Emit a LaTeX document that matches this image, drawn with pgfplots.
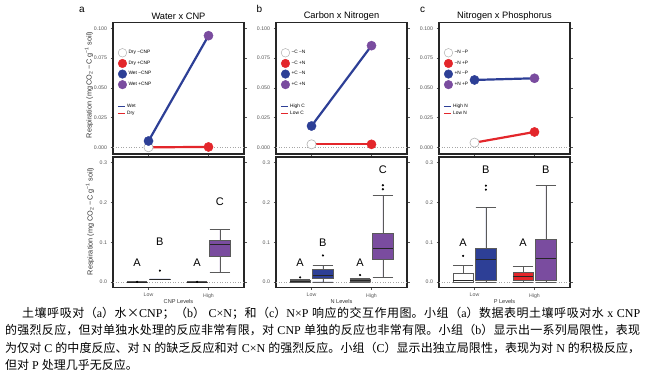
\documentclass[border=0pt]{standalone}
\usepackage{pgfplots}
\pgfplotsset{compat=1.18}
\usepgfplotslibrary{statistics}
\usepackage{fontspec}
\setmainfont{Liberation Sans}
\newfontfamily\cjk{Noto Sans CJK SC}
\newfontfamily\lat{Liberation Serif}
\definecolor{cred}{HTML}{E3262B}
\definecolor{cblue}{HTML}{2D3F96}
\definecolor{cpurple}{HTML}{7A4C9F}
\definecolor{fr}{HTML}{262626}
\definecolor{tk}{HTML}{555555}
\definecolor{bxc}{HTML}{5A5A5A}

\pgfplotsset{
  panel/.style={scale only axis, width=131pt,
    xmin=0.408, xmax=2.592,
    axis line style={fr, line width=1.5pt},
    tick style={tk, line width=0.4pt},
    tick align=outside, major tick length=2.5pt,
    ticklabel style={font=\fontsize{5.2}{6}\selectfont, text=tk},
    /pgf/number format/assume math mode=true,
    scaled y ticks=false, clip=false,
  },
  toppanel/.style={panel, height=131.3pt, ymin=-0.00563, ymax=0.1047,
    ytick={0,0.025,0.05,0.075,0.1}, xtick=\empty,
    yticklabel style={/pgf/number format/fixed, /pgf/number format/fixed zerofill, /pgf/number format/precision=3},
    legend image code/.code={\draw[##1] (0pt,0pt) -- (7pt,0pt);},
    legend style={draw=none, fill=none, inner sep=0pt, at={(axis description cs:0.031,0.381)}, anchor=north west,
      font=\fontsize{4.8}{5}\selectfont, row sep=2.2pt, column sep=1.6pt, nodes={inner sep=0pt}},
    legend cell align=left,
  },
  legaxis/.style={scale only axis, width=131pt, height=131.3pt, hide axis, xmin=0, xmax=1, ymin=0, ymax=1,
    legend image code/.code={\draw[##1] (0pt,0pt) circle (4.3pt);},
    legend style={draw=none, fill=none, inner sep=0pt, at={(axis description cs:0.036,0.807)}, anchor=north west,
      font=\fontsize{4.8}{5}\selectfont, row sep=1.6pt, column sep=1.5pt, nodes={inner sep=0pt}},
    legend cell align=left,
  },
  botpanel/.style={panel, height=130.3pt, ymin=-0.0128, ymax=0.3138,
    ytick={0,0.1,0.2,0.3}, xtick={1,2}, xticklabels={Low,High},
    yticklabel style={/pgf/number format/fixed, /pgf/number format/fixed zerofill, /pgf/number format/precision=1},
    boxplot/draw direction=y,
    boxplot/every median/.style={draw=black!85, line width=0.7pt},
  },
  zline/.style={forget plot, gray!70, dotted, line width=0.6pt},
  pt/.style={forget plot, only marks, mark=*, mark size=4.6pt, mark options={draw=#1, fill=#1}},
  conn/.style={forget plot, #1, line width=2.2pt},
}

% pos, lw, lq, med, uq, uw, fill, input
\newcommand{\bxp}[8]{%
  \addplot[boxplot prepared={draw position=#1, lower whisker=#2, lower quartile=#3, median=#4,
     upper quartile=#5, upper whisker=#6, box extend=0.34, whisker extend=0.34, draw direction=y},
     draw=bxc, fill=#7, line width=0.5pt, mark=*, mark size=0.8pt, mark options={draw=black, fill=black}] #8;
}

\begin{document}
\begin{tikzpicture}
\useasboundingbox (0,0) rectangle (650pt,-373pt);

% ---------- titles and panel letters
\node[font=\fontsize{10}{10}\selectfont] at (82pt,-10pt) {a};
\node[font=\fontsize{10}{10}\selectfont] at (259.5pt,-9pt) {b};
\node[font=\fontsize{10}{10}\selectfont] at (422.5pt,-10pt) {c};
\node[font=\fontsize{9.3}{10}\selectfont] at (178.5pt,-16pt) {Water x CNP};
\node[font=\fontsize{9.3}{10}\selectfont] at (341.5pt,-16pt) {Carbon x Nitrogen};
\node[font=\fontsize{9.3}{10}\selectfont] at (504.5pt,-16pt) {Nitrogen x Phosphorus};

\node[rotate=90, font=\fontsize{7.3}{8}\selectfont, text=black!80] at (89pt,-85pt) {Respiration (mg\,CO\textsubscript{2} −C g\textsuperscript{−1} soil)};
\node[rotate=90, font=\fontsize{7.3}{8}\selectfont, text=black!80] at (90pt,-221.5pt) {Respiration (mg CO\textsubscript{2} −C g\textsuperscript{−1} soil)};

\node[font=\fontsize{5.6}{6}\selectfont, text=black!80] at (178.5pt,-301pt) {CNP Levels};
\node[font=\fontsize{5.6}{6}\selectfont, text=black!80] at (341.5pt,-301pt) {N Levels};
\node[font=\fontsize{5.6}{6}\selectfont, text=black!80] at (504.5pt,-301pt) {P Levels};

% ---------- top a
\begin{axis}[toppanel, at={(113pt,-154pt)}, anchor=south west]
\addlegendimage{cblue, line width=1.3pt}\addlegendentry{Wet}
\addlegendimage{cred, line width=1.3pt}\addlegendentry{Dry}
\addplot[zline] coordinates {(0.408,0) (2.592,0)};
\addplot[conn=cred] coordinates {(1,0) (2,0.0003)};
\addplot[conn=cblue] coordinates {(1,0.0053) (2,0.0938)};
\addplot[forget plot, only marks, mark=*, mark size=4.6pt, mark options={draw=gray!60, fill=white, line width=0.6pt}] coordinates {(1,0)};
\addplot[pt=cred] coordinates {(2,0.0003)};
\addplot[pt=cblue] coordinates {(1,0.0053)};
\addplot[pt=cpurple] coordinates {(2,0.0938)};
\end{axis}
\begin{axis}[legaxis, at={(113pt,-154pt)}, anchor=south west]
\addlegendimage{draw=gray!60, fill=white, line width=0.5pt}\addlegendentry{Dry −CNP}
\addlegendimage{draw=cred, fill=cred}\addlegendentry{Dry +CNP}
\addlegendimage{draw=cblue, fill=cblue}\addlegendentry{Wet −CNP}
\addlegendimage{draw=cpurple, fill=cpurple}\addlegendentry{Wet +CNP}
\end{axis}

% ---------- top b
\begin{axis}[toppanel, at={(276pt,-154pt)}, anchor=south west]
\addlegendimage{cblue, line width=1.3pt}\addlegendentry{High C}
\addlegendimage{cred, line width=1.3pt}\addlegendentry{Low C}
\addplot[zline] coordinates {(0.408,0) (2.592,0)};
\addplot[conn=cred] coordinates {(1,0.0025) (2,0.0025)};
\addplot[conn=cblue] coordinates {(1,0.0179) (2,0.0854)};
\addplot[forget plot, only marks, mark=*, mark size=4.6pt, mark options={draw=gray!60, fill=white, line width=0.6pt}] coordinates {(1,0.0025)};
\addplot[pt=cred] coordinates {(2,0.0025)};
\addplot[pt=cblue] coordinates {(1,0.0179)};
\addplot[pt=cpurple] coordinates {(2,0.0854)};
\end{axis}
\begin{axis}[legaxis, at={(276pt,-154pt)}, anchor=south west]
\addlegendimage{draw=gray!60, fill=white, line width=0.5pt}\addlegendentry{−C −N}
\addlegendimage{draw=cred, fill=cred}\addlegendentry{−C +N}
\addlegendimage{draw=cblue, fill=cblue}\addlegendentry{+C −N}
\addlegendimage{draw=cpurple, fill=cpurple}\addlegendentry{+C +N}
\end{axis}

% ---------- top c
\begin{axis}[toppanel, at={(439pt,-154pt)}, anchor=south west]
\addlegendimage{cblue, line width=1.3pt}\addlegendentry{High N}
\addlegendimage{cred, line width=1.3pt}\addlegendentry{Low N}
\addplot[zline] coordinates {(0.408,0) (2.592,0)};
\addplot[conn=cred] coordinates {(1,0.0039) (2,0.0129)};
\addplot[conn=cblue] coordinates {(1,0.0566) (2,0.0580)};
\addplot[forget plot, only marks, mark=*, mark size=4.6pt, mark options={draw=gray!60, fill=white, line width=0.6pt}] coordinates {(1,0.0039)};
\addplot[pt=cred] coordinates {(2,0.0129)};
\addplot[pt=cblue] coordinates {(1,0.0566)};
\addplot[pt=cpurple] coordinates {(2,0.0580)};
\end{axis}
\begin{axis}[legaxis, at={(439pt,-154pt)}, anchor=south west]
\addlegendimage{draw=gray!60, fill=white, line width=0.5pt}\addlegendentry{−N −P}
\addlegendimage{draw=cred, fill=cred}\addlegendentry{−N +P}
\addlegendimage{draw=cblue, fill=cblue}\addlegendentry{+N −P}
\addlegendimage{draw=cpurple, fill=cpurple}\addlegendentry{+N +P}
\end{axis}

% ---------- bottom a
\begin{axis}[botpanel, at={(113pt,-287.3pt)}, anchor=south west]
\addplot[zline] coordinates {(0.408,0) (2.592,0)};
\bxp{0.81}{0}{0}{0.0005}{0.001}{0.0015}{white}{coordinates {(0,0.0008)}}
\bxp{1.19}{0.0065}{0.007}{0.0075}{0.008}{0.0085}{cblue}{coordinates {(0,0.029)}}
\bxp{1.81}{0}{0}{0.0005}{0.001}{0.0015}{cred}{coordinates {(0,0.0008)}}
\bxp{2.19}{0.025}{0.064}{0.095}{0.106}{0.133}{cpurple}{coordinates {}}
\node[font=\fontsize{11}{11}\selectfont] at (axis cs:0.81,0.049) {A};
\node[font=\fontsize{11}{11}\selectfont] at (axis cs:1.19,0.102) {B};
\node[font=\fontsize{11}{11}\selectfont] at (axis cs:1.81,0.049) {A};
\node[font=\fontsize{11}{11}\selectfont] at (axis cs:2.19,0.201) {C};
\end{axis}

% ---------- bottom b
\begin{axis}[botpanel, at={(276pt,-287.3pt)}, anchor=south west]
\addplot[zline] coordinates {(0.408,0) (2.592,0)};
\bxp{0.81}{0}{0.001}{0.003}{0.006}{0.008}{white}{coordinates {(0,0.012)}}
\bxp{1.19}{0.001}{0.010}{0.018}{0.0325}{0.043}{cblue}{coordinates {(0,0.067)}}
\bxp{1.81}{0}{0.002}{0.004}{0.0075}{0.010}{cred}{coordinates {(0,0.018)}}
\bxp{2.19}{0.0125}{0.0575}{0.085}{0.1225}{0.218}{cpurple}{coordinates {(0,0.233) (0,0.243)}}
\node[font=\fontsize{11}{11}\selectfont] at (axis cs:0.81,0.048) {A};
\node[font=\fontsize{11}{11}\selectfont] at (axis cs:1.19,0.0996) {B};
\node[font=\fontsize{11}{11}\selectfont] at (axis cs:1.81,0.048) {A};
\node[font=\fontsize{11}{11}\selectfont] at (axis cs:2.19,0.281) {C};
\end{axis}

% ---------- bottom c
\begin{axis}[botpanel, at={(439pt,-287.3pt)}, anchor=south west]
\addplot[zline] coordinates {(0.408,0) (2.592,0)};
\bxp{0.81}{0}{0.001}{0.005}{0.0225}{0.042}{white}{coordinates {(0,0.066)}}
\bxp{1.19}{0}{0.006}{0.0575}{0.085}{0.187}{cblue}{coordinates {(0,0.232) (0,0.242)}}
\bxp{1.81}{0}{0.006}{0.014}{0.024}{0.039}{cred}{coordinates {}}
\bxp{2.19}{0}{0.006}{0.059}{0.1075}{0.243}{cpurple}{coordinates {}}
\node[font=\fontsize{11}{11}\selectfont] at (axis cs:0.81,0.098) {A};
\node[font=\fontsize{11}{11}\selectfont] at (axis cs:1.19,0.281) {B};
\node[font=\fontsize{11}{11}\selectfont] at (axis cs:1.81,0.098) {A};
\node[font=\fontsize{11}{11}\selectfont] at (axis cs:2.19,0.281) {B};
\end{axis}

% ---------- caption
\node[anchor=base west, inner sep=0pt] at (5pt,-317.5pt) {\parbox[t]{635pt}{\cjk\fontsize{12}{17.4}\selectfont
\XeTeXlinebreaklocale "zh"\XeTeXlinebreakskip=0pt plus 1.5pt
\hspace*{17pt}土壤呼吸对（{\lat a}）水×{\lat CNP}；（{\lat b}）{\lat\ C×N}；和（{\lat c}）{\lat N×P }响应的交互作用图。小组（{\lat a}）数据表明土壤呼吸对水{\lat\ x CNP}\linebreak
的强烈反应，但对单独水处理的反应非常有限，对{\lat\ CNP }单独的反应也非常有限。小组（{\lat b}）显示出一系列局限性，表现\linebreak
为仅对{\lat\ C }的中度反应、对{\lat\ N }的缺乏反应和对{\lat\ C×N }的强烈反应。小组（{\lat C}）显示出独立局限性，表现为对{\lat\ N }的积极反应，\linebreak
但对{\lat\ P }处理几乎无反应。}};
\end{tikzpicture}
\end{document}
